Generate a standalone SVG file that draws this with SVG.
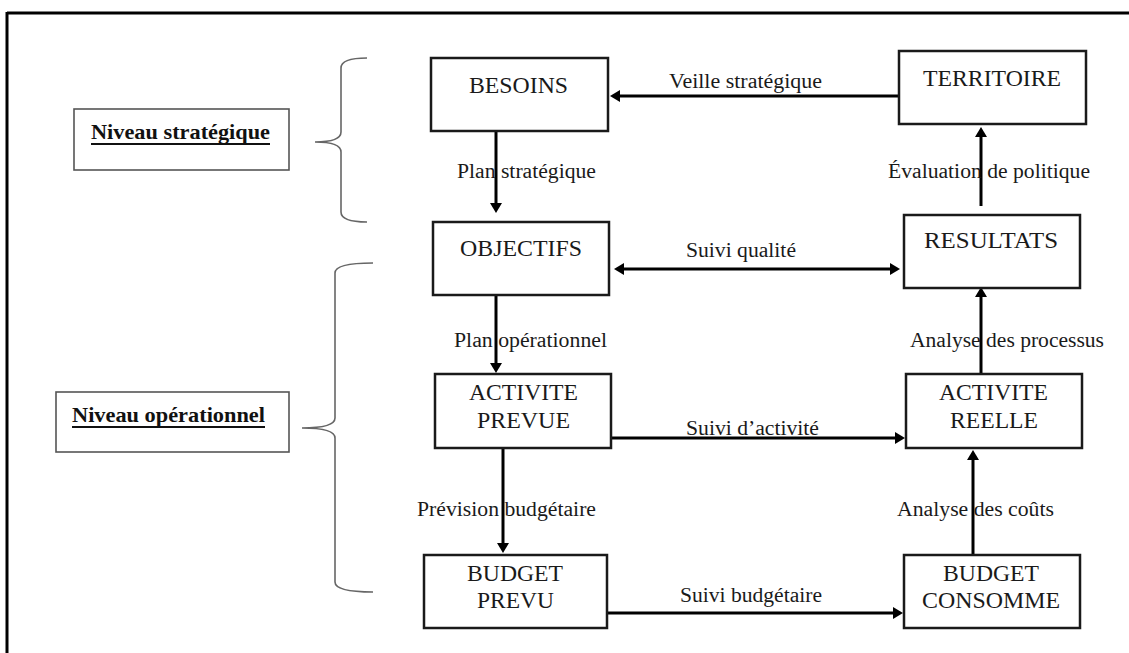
<svg xmlns="http://www.w3.org/2000/svg" width="1129" height="653" viewBox="0 0 1129 653">
<defs>
<style>
.frame{stroke:#000;stroke-width:3;fill:none}
.box{fill:#fff;stroke:#1a1a1a;stroke-width:2.5}
.lvl{fill:#fff;stroke:#555;stroke-width:1.6}
.brace{fill:none;stroke:#666;stroke-width:1.6}
.bt{font-family:"Liberation Serif","Times New Roman",serif;font-size:23px;fill:#1a1a1a;text-anchor:middle}
.lb{font-family:"Liberation Serif","Times New Roman",serif;font-size:20px;fill:#1a1a1a}
.lv{font-family:"Liberation Serif","Times New Roman",serif;font-size:22px;font-weight:bold;fill:#111}
.ul{stroke:#111;stroke-width:2}
.arr{stroke:#000;stroke-width:3;fill:none;marker-end:url(#ah)}
.arr2{stroke:#000;stroke-width:3;fill:none;marker-end:url(#ah);marker-start:url(#ah)}
</style>
<marker id="ah" markerUnits="userSpaceOnUse" markerWidth="11" markerHeight="12" refX="2" refY="6" orient="auto-start-reverse" viewBox="0 0 11 12">
<path d="M0,0 L10,6 L0,12 z" fill="#000"/>
</marker>
</defs>
<rect width="1129" height="653" fill="#fff"/>
<g id="frame">
<line class="frame" x1="7" y1="13" x2="1129" y2="13"/>
<line class="frame" x1="7" y1="12" x2="7" y2="653"/>
</g>
<g id="niveau-strategique">
<rect class="lvl" x="74" y="109" width="215" height="61"/>
<text class="lv" x="91" y="139" textLength="179" lengthAdjust="spacingAndGlyphs">Niveau stratégique</text>
<line class="ul" x1="91" y1="144" x2="270" y2="144"/>
<path class="brace" d="M367,58 Q341,58 341,68 L341,132 Q341,142 315,142 Q341,142 341,152 L341,212 Q341,222 367,222"/>
</g>
<g id="niveau-operationnel">
<rect class="lvl" x="56" y="392" width="233" height="60"/>
<text class="lv" x="72" y="422" textLength="193" lengthAdjust="spacingAndGlyphs">Niveau opérationnel</text>
<line class="ul" x1="72" y1="427" x2="265" y2="427"/>
<path class="brace" d="M373,263 Q335,263 335,273 L335,418 Q335,428 302,428 Q335,428 335,438 L335,582 Q335,592 373,592"/>
</g>
<g id="connectors">
<line class="arr" x1="899" y1="96" x2="618" y2="96"/>
<line class="arr" x1="496" y1="131" x2="496" y2="205"/>
<line class="arr" x1="981" y1="206" x2="981" y2="135"/>
<line class="arr2" x1="622" y1="269" x2="892" y2="269"/>
<line class="arr" x1="496" y1="295" x2="496" y2="365"/>
<line class="arr" x1="981" y1="374" x2="981" y2="295"/>
<line class="arr" x1="611" y1="438" x2="897" y2="438"/>
<line class="arr" x1="503" y1="448" x2="503" y2="545"/>
<line class="arr" x1="973" y1="555" x2="973" y2="458"/>
<line class="arr" x1="607" y1="613" x2="895" y2="613"/>
<text class="lb" x="669" y="88" textLength="153" lengthAdjust="spacingAndGlyphs">Veille stratégique</text>
<text class="lb" x="457" y="178" textLength="139" lengthAdjust="spacingAndGlyphs">Plan stratégique</text>
<text class="lb" x="888" y="178" textLength="202" lengthAdjust="spacingAndGlyphs">Évaluation de politique</text>
<text class="lb" x="686" y="257" textLength="110" lengthAdjust="spacingAndGlyphs">Suivi qualité</text>
<text class="lb" x="454" y="347" textLength="153" lengthAdjust="spacingAndGlyphs">Plan opérationnel</text>
<text class="lb" x="910" y="347" textLength="194" lengthAdjust="spacingAndGlyphs">Analyse des processus</text>
<text class="lb" x="686" y="435" textLength="133" lengthAdjust="spacingAndGlyphs">Suivi d’activité</text>
<text class="lb" x="417" y="516" textLength="179" lengthAdjust="spacingAndGlyphs">Prévision budgétaire</text>
<text class="lb" x="897" y="516" textLength="157" lengthAdjust="spacingAndGlyphs">Analyse des coûts</text>
<text class="lb" x="680" y="602" textLength="142" lengthAdjust="spacingAndGlyphs">Suivi budgétaire</text>
</g>
<g id="besoins">
<rect class="box" x="431" y="58" width="177" height="73"/>
<text class="bt" x="518.5" y="93" textLength="99" lengthAdjust="spacingAndGlyphs">BESOINS</text>
</g>
<g id="territoire">
<rect class="box" x="899" y="51" width="187" height="73"/>
<text class="bt" x="992" y="86" textLength="138" lengthAdjust="spacingAndGlyphs">TERRITOIRE</text>
</g>
<g id="objectifs">
<rect class="box" x="433" y="222" width="176" height="73"/>
<text class="bt" x="521" y="256" textLength="122" lengthAdjust="spacingAndGlyphs">OBJECTIFS</text>
</g>
<g id="resultats">
<rect class="box" x="904" y="215" width="176" height="73"/>
<text class="bt" x="991" y="248" textLength="134" lengthAdjust="spacingAndGlyphs">RESULTATS</text>
</g>
<g id="activite-prevue">
<rect class="box" x="435" y="374" width="176" height="74"/>
<text class="bt" x="523.5" y="400" textLength="109" lengthAdjust="spacingAndGlyphs">ACTIVITE</text>
<text class="bt" x="523.5" y="428" textLength="93" lengthAdjust="spacingAndGlyphs">PREVUE</text>
</g>
<g id="activite-reelle">
<rect class="box" x="906" y="374" width="176" height="74"/>
<text class="bt" x="993.5" y="400" textLength="109" lengthAdjust="spacingAndGlyphs">ACTIVITE</text>
<text class="bt" x="994" y="428" textLength="88" lengthAdjust="spacingAndGlyphs">REELLE</text>
</g>
<g id="budget-prevu">
<rect class="box" x="424" y="555" width="183" height="73"/>
<text class="bt" x="515" y="581" textLength="96" lengthAdjust="spacingAndGlyphs">BUDGET</text>
<text class="bt" x="515.5" y="608" textLength="77" lengthAdjust="spacingAndGlyphs">PREVU</text>
</g>
<g id="budget-consomme">
<rect class="box" x="904" y="555" width="176" height="73"/>
<text class="bt" x="991" y="581" textLength="96" lengthAdjust="spacingAndGlyphs">BUDGET</text>
<text class="bt" x="991" y="608" textLength="138" lengthAdjust="spacingAndGlyphs">CONSOMME</text>
</g>
</svg>
